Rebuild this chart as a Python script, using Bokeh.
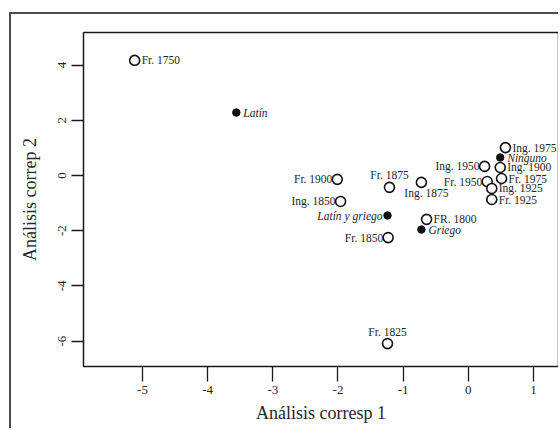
from bokeh.plotting import figure
from bokeh.models import Range1d, FixedTicker, ColumnDataSource, PrintfTickFormatter
from bokeh.core.properties import value
from bokeh.embed import file_html
from bokeh.resources import INLINE

# ---- data ----
open_labels = ["Fr. 1750", "Ing. 1975", "Ing. 1950", "Ing. 1900", "Fr. 1975",
               "Fr. 1950", "Ing. 1925", "Fr. 1925", "Fr. 1900", "Fr. 1875",
               "Ing. 1875", "Ing. 1850", "Fr. 1850", "FR. 1800", "Fr. 1825"]
open_x = [-5.12, 0.57, 0.25, 0.49, 0.51, 0.29, 0.36, 0.36, -2.01, -1.21,
          -0.72, -1.96, -1.23, -0.64, -1.24]
open_y = [4.17, 1.01, 0.33, 0.29, -0.11, -0.22, -0.47, -0.87, -0.14, -0.43,
          -0.25, -0.94, -2.25, -1.59, -6.09]
open_side = ["r", "r", "l", "r", "r", "l", "r", "r", "l", "a",
             "b", "l", "l", "r", "a"]

filled_labels = ["Latín", "Ninguno", "Latín y griego", "Griego"]
filled_x = [-3.56, 0.49, -1.24, -0.72]
filled_y = [2.28, 0.65, -1.45, -1.96]
filled_side = ["r", "r", "l", "r"]

x_ticks = [-5, -4, -3, -2, -1, 0, 1]
y_ticks = [-6, -4, -2, 0, 2, 4]

FONT = "Liberation Serif"
TXT = "#262626"

p = figure(width=549, height=416,
           x_range=Range1d(-5.905, 1.384), y_range=Range1d(-6.92, 5.18),
           output_backend="svg", toolbar_location=None,
           min_border_left=72, min_border_right=2,
           min_border_top=18, min_border_bottom=64)
p.styles = {"border-left": "2px solid #4d4d4d", "border-top": "2px solid #4d4d4d",
            "margin-left": "9px", "position": "relative", "top": "12px"}

p.xgrid.visible = False
p.ygrid.visible = False
p.outline_line_color = "#1a1a1a"
p.outline_line_width = 1.5
p.background_fill_color = "white"
p.border_fill_color = "white"

p.xaxis.ticker = FixedTicker(ticks=x_ticks)
p.yaxis.ticker = FixedTicker(ticks=y_ticks)
for ax in (p.xaxis[0], p.yaxis[0]):
    ax.formatter = PrintfTickFormatter(format="%d")
    ax.axis_line_color = None
    ax.minor_tick_line_color = None
    ax.major_tick_line_color = "#1a1a1a"
    ax.major_tick_line_width = 1.3
    ax.major_tick_in = 0
    ax.major_label_text_font = FONT
    ax.major_label_text_font_size = "13px"
    ax.major_label_text_color = TXT
    ax.axis_label_text_font = FONT
    ax.axis_label_text_font_size = "18px"
    ax.axis_label_text_font_style = "normal"
    ax.axis_label_text_color = TXT
p.xaxis.major_tick_out = 15
p.yaxis.major_tick_out = 12
p.xaxis.major_label_standoff = 4
p.yaxis.major_label_standoff = 5
p.yaxis.major_label_orientation = "vertical"
p.xaxis.axis_label = "Análisis corresp 1"
p.yaxis.axis_label = "Análisis correp 2"
p.xaxis.axis_label_standoff = 6
p.yaxis.axis_label_standoff = 16

p.scatter(open_x, open_y, size=10, marker="circle", fill_color="white",
          line_color="#111111", line_width=1.6)
p.scatter(filled_x, filled_y, size=7.5, marker="circle", fill_color="#111111",
          line_color="#111111")

OFFS = {"r": (7, 0, "left", "middle"), "l": (-5, 0, "right", "middle"),
        "a": (0, -12, "center", "middle"), "b": (5, 11, "center", "middle")}

def add_labels(xs, ys, labels, sides, style):
    for side in sorted(set(sides)):
        idx = [i for i, s in enumerate(sides) if s == side]
        dx, dy, align, base = OFFS[side]
        src = ColumnDataSource(dict(x=[xs[i] for i in idx], y=[ys[i] for i in idx],
                                    t=[labels[i] for i in idx]))
        p.text("x", "y", text="t", source=src, x_offset=dx, y_offset=dy,
               text_align=align, text_baseline=base, text_font=value(FONT),
               text_font_size="11.5px", text_font_style=style, text_color=TXT)

add_labels(open_x, open_y, open_labels, open_side, "normal")
add_labels(filled_x, filled_y, filled_labels, filled_side, "italic")

open("out.html", "w").write(file_html(p, INLINE))
